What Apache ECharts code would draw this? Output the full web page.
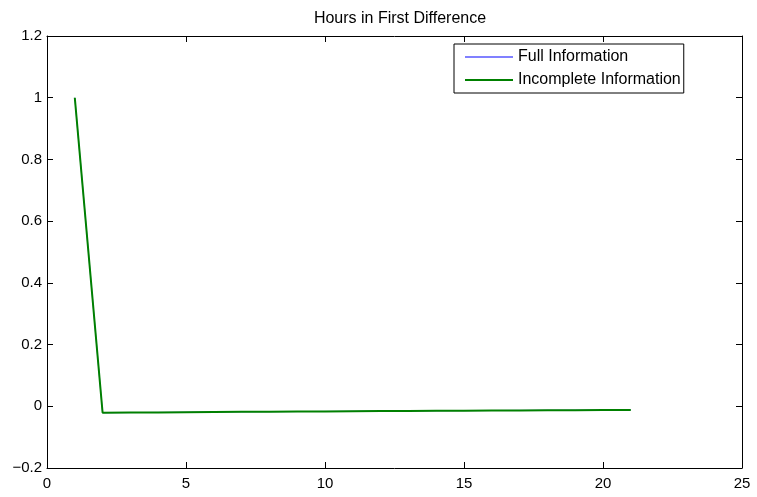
<!DOCTYPE html>
<html>
<head>
<meta charset="utf-8">
<script src="https://cdn.jsdelivr.net/npm/echarts@6/dist/echarts.min.js"></script>
<style>html,body{margin:0;padding:0;background:#fff}#c{width:757px;height:497px}</style>
</head>
<body>
<div id="c"></div>
<script>
var titleText = 'Hours in First Difference';
var seriesNames = ['Full Information', 'Incomplete Information'];
var periods = [1,2,3,4,5,6,7,8,9,10,11,12,13,14,15,16,17,18,19,20,21];
var fullInfo = [1, -0.021, -0.0204, -0.0198, -0.0192, -0.0186, -0.0181, -0.0176, -0.0171, -0.0166, -0.0161, -0.0156, -0.0151, -0.0146, -0.0141, -0.0137, -0.0133, -0.0129, -0.0125, -0.0121, -0.0117];
var incompleteInfo = [1, -0.021, -0.0204, -0.0198, -0.0192, -0.0186, -0.0181, -0.0176, -0.0171, -0.0166, -0.0161, -0.0156, -0.0151, -0.0146, -0.0141, -0.0137, -0.0133, -0.0129, -0.0125, -0.0121, -0.0117];
var xTicks = [0, 5, 10, 15, 20, 25];
var yTicks = [-0.2, 0, 0.2, 0.4, 0.6, 0.8, 1, 1.2];

function pairs(xs, ys){ return xs.map(function(x,i){ return [x, ys[i]]; }); }
var font = 'Liberation Sans, Arial, Helvetica, sans-serif';
var axisCommon = {
  axisLine: {show: true, onZero: false, lineStyle: {color: '#000', width: 1}},
  axisTick: {show: true, inside: true, length: 6, lineStyle: {color: '#000', width: 1}},
  splitLine: {show: false}
};
var chart = echarts.init(document.getElementById('c'), null, {renderer: 'canvas'});
chart.setOption({
  animation: false,
  backgroundColor: '#fff',
  title: {text: titleText, left: 395, top: 6, textAlign: 'center',
    textStyle: {fontFamily: font, fontSize: 16, fontWeight: 'normal', color: '#000'}},
  grid: {left: 47, right: 15, top: 36, bottom: 29, containLabel: false},
  legend: {
    orient: 'vertical', left: 454, top: 44,
    padding: [5, 3, 5, 10], itemGap: 7, itemWidth: 48, itemHeight: 14,
    borderColor: '#000', borderWidth: 1, backgroundColor: '#fff',
    itemStyle: {opacity: 0},
    textStyle: {fontFamily: font, fontSize: 16, color: '#000'},
    data: seriesNames
  },
  xAxis: [
    Object.assign({type: 'value', position: 'bottom', min: xTicks[0], max: xTicks[xTicks.length-1], interval: 5,
      axisLabel: {show: true, margin: 8, color: '#000', fontFamily: font, fontSize: 15}}, axisCommon),
    Object.assign({type: 'value', position: 'top', min: xTicks[0], max: xTicks[xTicks.length-1], interval: 5,
      axisLabel: {show: false}}, axisCommon)
  ],
  yAxis: [
    Object.assign({type: 'value', position: 'left', min: yTicks[0], max: yTicks[yTicks.length-1], interval: 0.2,
      axisLabel: {show: true, margin: 5, color: '#000', fontFamily: font, fontSize: 15,
        formatter: function(v){ var s = String(Math.round(v*10)/10); return s.replace('-', '\u2212'); }}}, axisCommon),
    Object.assign({type: 'value', position: 'right', min: yTicks[0], max: yTicks[yTicks.length-1], interval: 0.2,
      axisLabel: {show: false}}, axisCommon)
  ],
  series: [
    {name: seriesNames[0], type: 'line', symbol: 'none', data: pairs(periods, fullInfo),
      lineStyle: {color: '#8080ff', width: 1}, itemStyle: {color: '#8080ff'}, z: 2},
    {name: seriesNames[1], type: 'line', symbol: 'none', data: pairs(periods, incompleteInfo),
      lineStyle: {color: '#008000', width: 2}, itemStyle: {color: '#008000'}, z: 3}
  ]
});
</script>
</body>
</html>
